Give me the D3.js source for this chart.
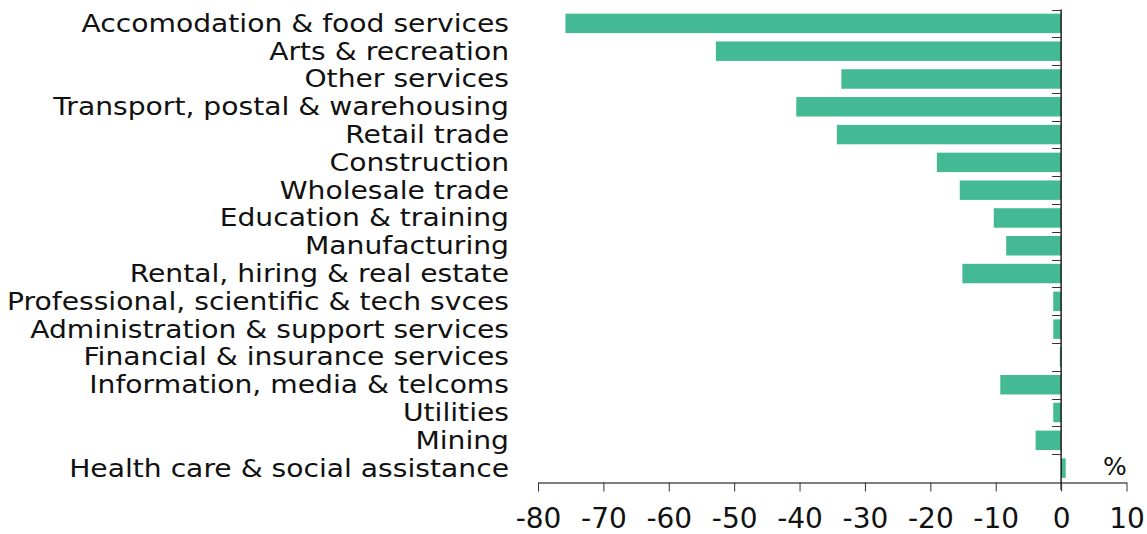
<!DOCTYPE html>
<html><head><meta charset="utf-8">
<script src="https://cdn.jsdelivr.net/npm/d3@7"></script>
<style>body{margin:0;background:#fff}svg{display:block}</style>
</head><body>
<svg id="c" width="1147" height="534"></svg>
<script>
const categories = ["Accomodation & food services","Arts & recreation","Other services","Transport, postal & warehousing","Retail trade","Construction","Wholesale trade","Education & training","Manufacturing","Rental, hiring & real estate","Professional, scientific & tech svces","Administration & support services","Financial & insurance services","Information, media & telcoms","Utilities","Mining","Health care & social assistance"];
const values = [-75.8,-52.8,-33.6,-40.5,-34.3,-19.0,-15.5,-10.3,-8.4,-15.1,-1.2,-1.2,-0.2,-9.3,-1.2,-3.9,0.7];
const xTicks = [-80,-70,-60,-50,-40,-30,-20,-10,0,10];
const unitLabel = "%";

const FONT = "'DejaVu Sans', sans-serif";
const svg = d3.select("#c");
const x = d3.scaleLinear().domain([-80,10]).range([538,1126.5]);
const y = d3.scaleBand().domain(categories).range([9.5,482]).paddingInner(0.3).paddingOuter(0.15);
const band = d3.scaleBand().domain(categories).range([9.5,482]);

svg.append("g").selectAll("rect").data(categories).join("rect")
  .attr("x", (d,i)=>x(Math.min(0,values[i])))
  .attr("width", (d,i)=>Math.abs(x(values[i])-x(0)))
  .attr("y", d=>y(d)).attr("height", y.bandwidth())
  .attr("fill","#43b994");

// y axis line + ticks at band boundaries
const yax = svg.append("g");
yax.append("line").attr("x1",x(0)).attr("x2",x(0)).attr("y1",9.5).attr("y2",490).attr("stroke","#000").attr("stroke-width",1.3);
const bounds = categories.map(c=>band(c));
yax.selectAll("line.t").data(bounds).join("line").attr("class","t")
  .attr("x1",x(0)-9).attr("x2",x(0)).attr("y1",d=>Math.round(d)+0.5).attr("y2",d=>Math.round(d)+0.5)
  .attr("stroke","#333").attr("stroke-width",1);

// category labels
const labels = svg.append("g").selectAll("text").data(categories).join("text")
  .attr("x",509).attr("y",d=>band(d)+band.bandwidth()/2+8.5)
  .attr("text-anchor","end")
  .attr("font-family",FONT).attr("font-size",24.5).attr("fill","#111")
  .text(d=>d);
labels.each(function(){
  const w = this.getComputedTextLength();
  d3.select(this).attr("textLength", w*1.15).attr("lengthAdjust","spacingAndGlyphs");
});

// x axis
const xg = svg.append("g").attr("transform","translate(0,482.5)");
xg.call(d3.axisBottom(x).tickValues(xTicks).tickSize(9).tickSizeOuter(0).tickFormat(d=>String(d)));
xg.select(".domain").attr("stroke","#000").attr("stroke-width",1.2);
xg.selectAll(".tick line").attr("stroke","#333");
xg.selectAll(".tick text").attr("font-family",FONT).attr("font-size",28).attr("fill","#111")
  .attr("y",45.5).attr("dy",0);

svg.append("text").attr("x",1115).attr("y",475).attr("text-anchor","middle")
  .attr("font-family",FONT).attr("font-size",25).attr("fill","#111").text(unitLabel);
</script>
</body></html>
